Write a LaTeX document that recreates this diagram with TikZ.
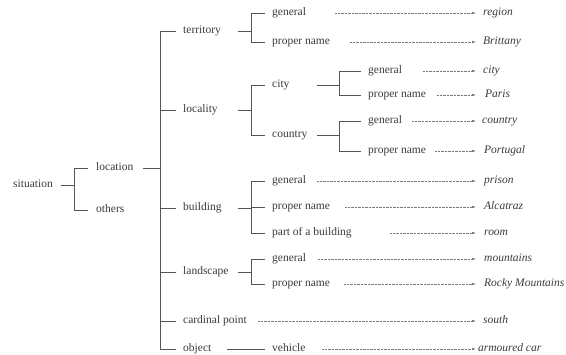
\documentclass[tikz,border=0pt]{standalone}
\usepackage{fontspec}
\setmainfont{Liberation Serif}
\usepackage{tikz}
\usetikzlibrary{arrows.meta}

\definecolor{txtgray}{HTML}{3A3A3A}
\definecolor{linegray}{HTML}{555555}
\definecolor{dotgray}{HTML}{7A7A7A}

\begin{document}
\begin{tikzpicture}[x=1pt, y=-1pt, inner sep=0pt,
	lab/.style={anchor=west, text=txtgray, font=\fontsize{11.5}{13}\selectfont, text height=1.5ex, text depth=.3ex},
	term/.style={lab, font=\fontsize{11.5}{13}\selectfont\itshape},
	tree/.style={draw=linegray, line width=0.8pt},
	refer/.style={draw=dotgray, line width=0.6pt, dash pattern=on 0.5pt off 0.9pt, -{Latex[length=4pt, width=2.6pt]}}]
	\useasboundingbox (0,0) rectangle (566,355);
	
	% junction columns
	\coordinate (j0) at (74,0);
	\coordinate (j1) at (160,0);
	\coordinate (j2) at (251,0);
	\coordinate (j3) at (339,0);
	
	\node[lab](sit) at (13,185) {situation};
	\node[lab](loc) at (96,168) {location};
	\node[lab](oth) at (96,210) {others};
	
	\node[lab](terr) at (183,31) {territory};
	\node[lab](loca) at (183,110) {locality};
	\node[lab](bldg) at (183,208) {building};
	\node[lab](land) at (183,272) {landscape};
	\node[lab](card) at (183,321) {cardinal point};
	\node[lab](obj) at (183,349) {object};
	
	\node[lab](tgen) at (272,13) {general};
	\node[lab](tprop) at (272,42) {proper name};
	\node[lab](city) at (272,85) {city};
	\node[lab](ctry) at (272,135) {country};
	\node[lab](bgen) at (272,181) {general};
	\node[lab](bprop) at (272,207) {proper name};
	\node[lab](bpart) at (272,233) {part of a building};
	\node[lab](lgen) at (272,259) {general};
	\node[lab](lprop) at (272,284) {proper name};
	\node[lab](veh) at (272,349) {vehicle};
	
	\node[lab](cgen) at (368,71) {general};
	\node[lab](cprop) at (368,95) {proper name};
	\node[lab](ngen) at (368,121) {general};
	\node[lab](nprop) at (368,151) {proper name};
	
	\node[term](region) at (483,13) {region};
	\node[term](brittany) at (483,42) {Brittany};
	\node[term](cityw) at (483,71) {city};
	\node[term](paris) at (485,95) {Paris};
	\node[term](country) at (482,121) {country};
	\node[term](portugal) at (484,151) {Portugal};
	\node[term](prison) at (484,181) {prison};
	\node[term](alcatraz) at (484,207) {Alcatraz};
	\node[term](room) at (484,233) {room};
	\node[term](mountains) at (484,259) {mountains};
	\node[term](rocky) at (484,284) {Rocky Mountains};
	\node[term](south) at (483,321) {south};
	\node[term](car) at (478,349) {armoured car};
	
	% brackets
	\draw[tree]([xshift=8pt]sit.east) -- (sit -| j0);
	\draw[tree]([xshift=-8pt]loc.west) -- (loc -| j0) -- (oth -| j0) -- ([xshift=-8pt]oth.west);
	
	\draw[tree]([xshift=10pt]loc.east) -- (loc -| j1);
	\draw[tree]([xshift=-7pt]terr.west) -- (terr -| j1) -- (obj -| j1) -- ([xshift=-7pt]obj.west);
	\foreach \c in {loca, bldg, land, card}
		\draw[tree](\c -| j1) -- ([xshift=-7pt]\c.west);
	
	\foreach \p/\a/\b in {terr/tgen/tprop, loca/city/ctry, bldg/bgen/bpart, land/lgen/lprop}{
		\draw[tree](\p -| 238,0) -- (\p -| j2);
		\draw[tree]([xshift=-7pt]\a.west) -- (\a -| j2) -- (\b -| j2) -- ([xshift=-7pt]\b.west);
	}
	\draw[tree](bprop -| j2) -- ([xshift=-7pt]bprop.west);
	
	\foreach \p/\a/\b in {city/cgen/cprop, ctry/ngen/nprop}{
		\draw[tree](\p -| 317,0) -- (\p -| j3);
		\draw[tree]([xshift=-7pt]\a.west) -- (\a -| j3) -- (\b -| j3) -- ([xshift=-7pt]\b.west);
	}
	
	\draw[tree](obj -| 227,0) -- ([xshift=-7pt]veh.west);
	
	% references
	\foreach \s/\t/\x in {tgen/region/335, tprop/brittany/350, cgen/cityw/423, cprop/paris/437,
		ngen/country/412, nprop/portugal/435, bgen/prison/317, bprop/alcatraz/345,
		bpart/room/390, lgen/mountains/318, lprop/rocky/344, card/south/258, veh/car/322}
		\draw[refer](\s -| \x,0) -- (\s -| 476,0);
\end{tikzpicture}
\end{document}
